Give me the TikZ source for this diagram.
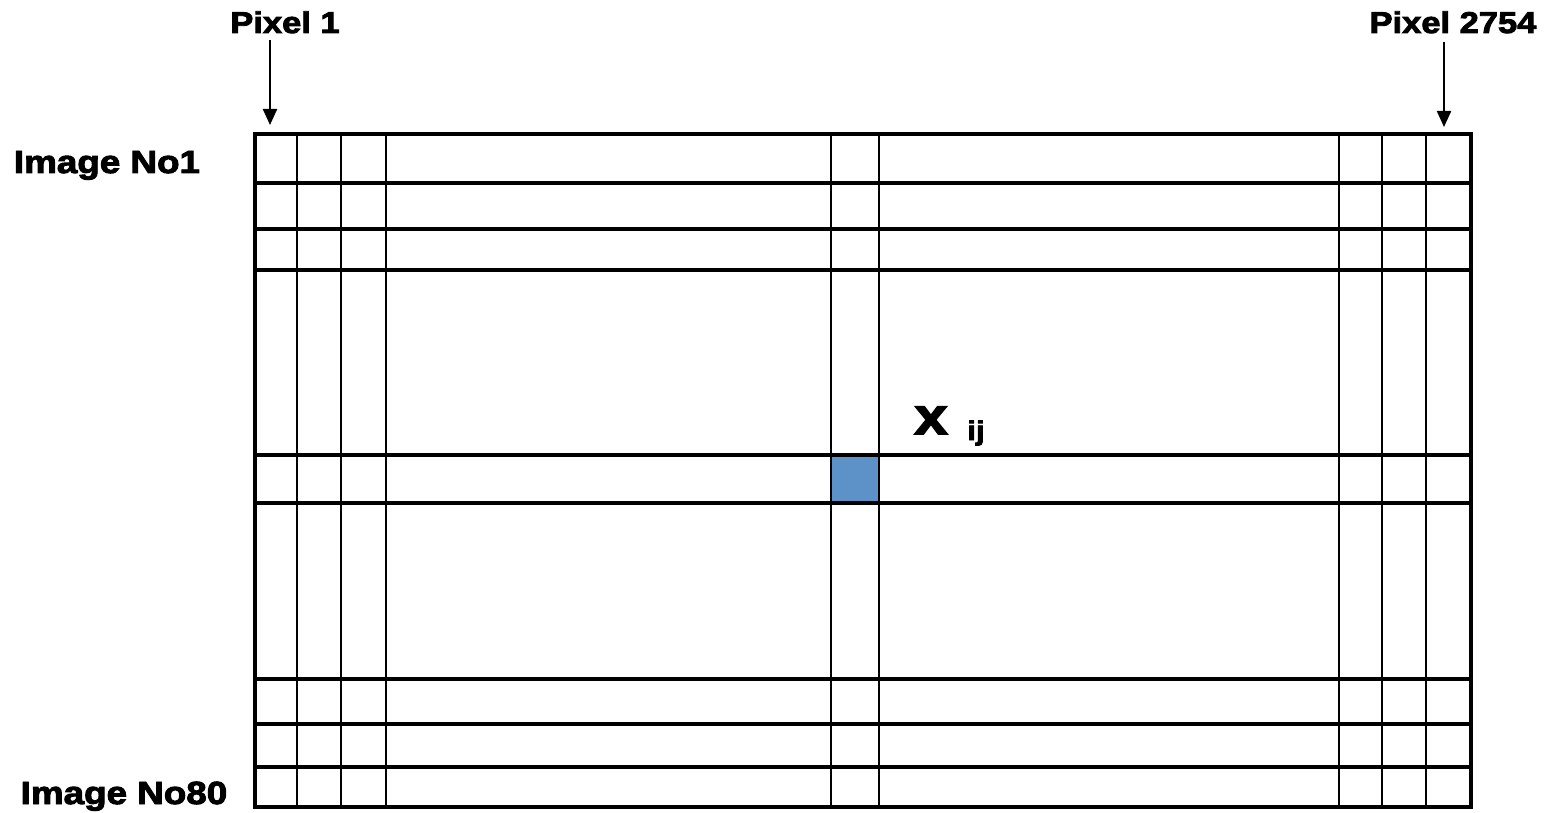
\documentclass[tikz,border=0pt]{standalone}
\usepackage{fontspec}
\newfontfamily\heavy{Liberation Sans}[BoldFeatures={FakeBold=3,FakeStretch=1.15}]
\usetikzlibrary{arrows.meta}
\definecolor{cellblue}{RGB}{92,146,199}
\begin{document}
\begin{tikzpicture}[x=1pt,y=-1pt,
  lbl/.style={font=\heavy\bfseries\fontsize{30}{30}\selectfont, anchor=base, inner sep=0pt},
  rowlbl/.style={font=\heavy\bfseries\fontsize{32}{32}\selectfont, anchor=base, inner sep=0pt},
  outer/.style={line width=4.5pt, line join=miter},
  hline/.style={line width=3.3pt},
  vline/.style={line width=2.8pt},
  pointer/.style={line width=2.2pt, -{Triangle[width=14pt,length=16pt]}}]
\useasboundingbox (0,0) rectangle (1553,813);
% blue cell
\fill[cellblue] (831,455) rectangle (879,503);
% horizontal lines
\foreach \y in {183,229,270,455,503,679,724,767}
  \draw[hline] (255,\y) -- (1471,\y);
% vertical lines
\foreach \x in {297,341,386,831,879,1339,1382,1426}
  \draw[vline] (\x,134) -- (\x,807);
% outer frame
\draw[outer] (255,134) rectangle (1471,807);
% labels
\node[lbl] (p1) at (285,33) {Pixel 1};
\node[lbl] (p2) at (1453,33) {Pixel 2754};
\node[rowlbl] (im1) at (107,173) {Image No1};
\node[rowlbl] (im80) at (124,804) {Image No80};
\node[anchor=base, inner sep=0pt, font=\heavy\bfseries\fontsize{52}{52}\selectfont] (x) at (931,434) {x};
\node[anchor=base, inner sep=0pt, font=\heavy\bfseries\fontsize{27}{27}\selectfont] (ij) at (976,440) {ij};
% arrows
\coordinate (a1s) at (270,40);
\coordinate (a1e) at (270,125);
\coordinate (a2s) at (1444,42);
\coordinate (a2e) at (1444,127);
\draw[pointer] (a1s) -- (a1e);
\draw[pointer] (a2s) -- (a2e);
\end{tikzpicture}
\end{document}
